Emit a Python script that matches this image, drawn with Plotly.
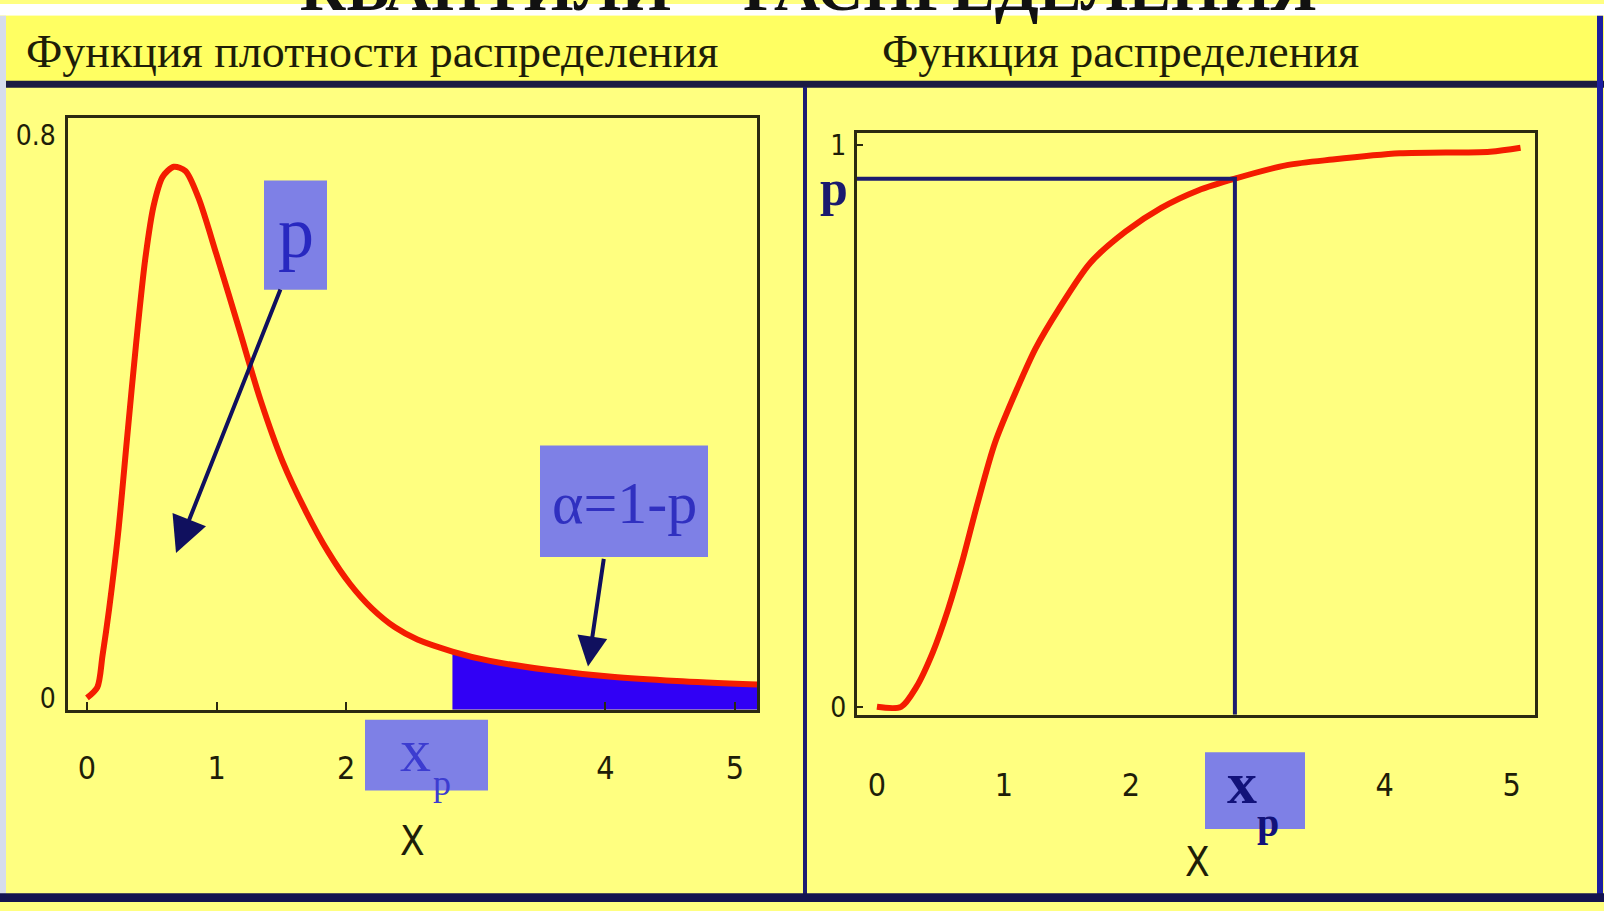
import plotly.graph_objects as go

W, H = 1604, 911

# Density of the distribution (left panel)
density_x = [0.00, 0.08, 0.12, 0.17, 0.24, 0.31, 0.38, 0.45, 0.515, 0.585, 0.67, 0.76,
             0.86, 1.00, 1.17, 1.34, 1.51, 1.69, 1.86, 2.03, 2.20, 2.38, 2.55, 2.82,
             3.10, 3.55, 4.05, 4.55, 5.17]
density_y = [0.000, 0.015, 0.060, 0.125, 0.233, 0.370, 0.505, 0.624, 0.700, 0.741, 0.755, 0.749,
             0.711, 0.630, 0.527, 0.423, 0.336, 0.265, 0.208, 0.162, 0.127, 0.100, 0.083, 0.066,
             0.053, 0.040, 0.030, 0.024, 0.019]

# Cumulative distribution function (right panel)
cdf_x = [0.00, 0.19, 0.31, 0.44, 0.56, 0.67, 0.79, 0.93, 1.11, 1.25, 1.43, 1.68, 1.96,
         2.24, 2.53, 2.82, 3.23, 3.59, 4.12, 4.83, 5.07]
cdf_y = [0.000, 0.000, 0.035, 0.097, 0.173, 0.257, 0.360, 0.470, 0.569, 0.638, 0.707, 0.790,
         0.846, 0.888, 0.919, 0.940, 0.964, 0.974, 0.985, 0.988, 0.995]

# Quantile x_p and its probability p
quantile_x = 2.82
prob_p = 0.94

x_tick_vals = [0, 1, 2, 4, 5]
density_tick_vals = [0, 0.8]
density_tick_text = ["0", "0.8"]
cdf_tick_vals = [0, 1]
cdf_tick_text = ["0", "1"]

panel_titles = ["Функция плотности распределения", "Функция распределения"]
slide_title = ["КВАНТИЛИ", "РАСПРЕДЕЛЕНИЯ"]

density_range_x = [-0.15, 5.17]
density_range_y = [-0.0168, 0.8244]
cdf_range_x = [-0.157, 5.18]
cdf_range_y = [-0.014, 1.021]

# colours
BODY = "#ffff80"
HEADER = "#ffff62"
FRAME = "#2b2a10"
RED = "#f41c00"
FILL = "#3100f5"
BOX = "#7e80e6"
TICK = "#1e1e08"
NARROW = "Liberation Sans Narrow, DejaVu Sans Condensed, Arial Narrow, sans-serif"
SERIF = "Liberation Serif, Times New Roman, serif"


def px(x):
    return x / W


def py(y):
    return 1 - y / H


fig = go.Figure()

# shaded upper tail, alpha = 1 - p
tail_x = [x for x in density_x if x >= quantile_x]
tail_y = [y for x, y in zip(density_x, density_y) if x >= quantile_x]
fig.add_trace(go.Scatter(
    x=tail_x + [tail_x[-1], tail_x[0]],
    y=tail_y + [density_range_y[0], density_range_y[0]],
    fill="toself", fillcolor=FILL, mode="lines", line=dict(width=0, color=FILL),
    hoverinfo="skip", xaxis="x", yaxis="y"))

fig.add_trace(go.Scatter(x=density_x, y=density_y, mode="lines",
                         line=dict(color=RED, width=6, shape="spline", smoothing=0.8),
                         hoverinfo="skip", xaxis="x", yaxis="y"))

fig.add_trace(go.Scatter(x=cdf_x, y=cdf_y, mode="lines",
                         line=dict(color=RED, width=6, shape="spline", smoothing=0.8),
                         hoverinfo="skip", xaxis="x2", yaxis="y2"))

# guide lines p -> x_p on the distribution function
fig.add_trace(go.Scatter(x=[cdf_range_x[0], quantile_x, quantile_x],
                         y=[prob_p, prob_p, cdf_range_y[0]], mode="lines",
                         line=dict(color="#1c1c6e", width=4),
                         hoverinfo="skip", xaxis="x2", yaxis="y2"))

axis_common = dict(showline=True, mirror=True, linecolor=FRAME, linewidth=3,
                   showgrid=False, zeroline=False, fixedrange=True,
                   tickcolor=FRAME, tickwidth=2)

fig.update_layout(
    width=W, height=H, autosize=False,
    margin=dict(l=0, r=0, t=0, b=0, pad=0),
    paper_bgcolor=BODY, plot_bgcolor=BODY,
    showlegend=False,
    xaxis=dict(domain=[px(67.5), px(757)], range=density_range_x, anchor="y",
               tickvals=x_tick_vals, ticks="inside", ticklen=8,
               tickfont=dict(family=NARROW, size=32, color=TICK),
               ticklabelstandoff=28, **axis_common),
    yaxis=dict(domain=[py(716), py(115.6)], range=density_range_y, anchor="x",
               tickvals=density_tick_vals, ticktext=density_tick_text, ticks="",
               tickfont=dict(family=NARROW, size=28, color=TICK),
               ticklabelstandoff=3, **axis_common),
    xaxis2=dict(domain=[px(857), px(1534.5)], range=cdf_range_x, anchor="y2",
                tickvals=x_tick_vals, ticks="",
                tickfont=dict(family=NARROW, size=32, color=TICK),
                ticklabelstandoff=40, **axis_common),
    yaxis2=dict(domain=[py(721), py(131)], range=cdf_range_y, anchor="x2",
                tickvals=cdf_tick_vals, ticktext=cdf_tick_text, ticks="inside", ticklen=6,
                tickfont=dict(family=NARROW, size=28, color=TICK),
                ticklabelstandoff=2, **axis_common),
)

shapes = [
    # white strip at the very top and the header band
    dict(type="rect", xref="paper", yref="paper", x0=0, x1=1, y0=py(12), y1=1,
         fillcolor="white", line=dict(width=0), layer="below"),
    dict(type="rect", xref="paper", yref="paper", x0=0, x1=1, y0=py(80), y1=py(12),
         fillcolor=HEADER, line=dict(width=0), layer="below"),
    # light strip on the left edge
    dict(type="rect", xref="paper", yref="paper", x0=0, x1=px(6), y0=0, y1=py(12),
         fillcolor="#d6dcec", line=dict(width=0), layer="above"),
    # panel frame lines
    dict(type="line", xref="paper", yref="paper", x0=px(6), x1=1, y0=py(81.5), y1=py(81.5),
         line=dict(color="#1a1a42", width=7), layer="above"),
    dict(type="line", xref="paper", yref="paper", x0=px(805), x1=px(805), y0=0, y1=py(84),
         line=dict(color="#1c1c72", width=4), layer="above"),
    dict(type="line", xref="paper", yref="paper", x0=px(1600), x1=px(1600), y0=0, y1=py(12),
         line=dict(color="#1b1ea0", width=6), layer="above"),
    dict(type="rect", xref="paper", yref="paper", x0=0, x1=1, y0=0, y1=py(902),
         fillcolor="#141450", line=dict(width=0), layer="above"),
    # label boxes
    dict(type="rect", xref="paper", yref="paper", x0=px(264), x1=px(327), y0=py(290), y1=py(179),
         fillcolor=BOX, line=dict(width=0), layer="above"),
    dict(type="rect", xref="paper", yref="paper", x0=px(540), x1=px(708), y0=py(561), y1=py(448),
         fillcolor=BOX, line=dict(width=0), layer="above"),
    dict(type="rect", xref="paper", yref="paper", x0=px(365), x1=px(488), y0=py(798), y1=py(726),
         fillcolor=BOX, line=dict(width=0), layer="above"),
    dict(type="rect", xref="paper", yref="paper", x0=px(1205), x1=px(1305), y0=py(837), y1=py(759),
         fillcolor=BOX, line=dict(width=0), layer="above"),
]
fig.update_layout(shapes=shapes)

ann = []


def text(x, y, s, size, color, family=SERIF, xanchor="center", yanchor="middle",
         yref="paper", yshift=0):
    ann.append(dict(x=x, y=y, xref="paper", yref=yref, text=s, showarrow=False,
                    xanchor=xanchor, yanchor=yanchor, yshift=yshift,
                    font=dict(family=family, size=size, color=color)))


# slide title, sitting mostly above the top edge of the page
text(px(485), py(-16), "<b>" + slide_title[0] + "</b>", 64, "#111")
text(px(1030), py(-16), "<b>" + slide_title[1] + "</b>", 64, "#111")

# panel headers
text(px(24), py(48), panel_titles[0], 46, "#1e1e08", xanchor="left")
text(px(880), py(48), panel_titles[1], 46, "#1e1e08", xanchor="left")

# box labels
text(px(296), py(232), "p", 72, "#2828c0")
text(px(624), py(506), "α=1-p", 60, "#3030c0")
text(px(415), py(757), "x", 62, "#3c3cd0")
text(px(442), py(790), "p", 36, "#3c3cd0")
text(px(1242), py(790), "<b>x</b>", 60, "#12127a")
text(px(1268), py(830), "<b>p</b>", 40, "#12127a")

# p on the probability axis
text(px(834), prob_p, "<b>p</b>", 50, "#1a1a6e", yref="y2", yshift=-9)

# axis names
text(px(412), py(849), "X", 40, TICK, family=NARROW)
text(px(1197), py(870), "X", 40, TICK, family=NARROW)

# arrows from the labels to the areas
ann.append(dict(x=px(176), y=py(557), xref="paper", yref="paper", text="",
                showarrow=True, arrowhead=2, arrowsize=1.8, arrowwidth=4,
                arrowcolor="#10105e", ax=105, ay=-265, axref="pixel", ayref="pixel"))
ann.append(dict(x=px(588), y=py(672), xref="paper", yref="paper", text="",
                showarrow=True, arrowhead=2, arrowsize=1.5, arrowwidth=4,
                arrowcolor="#10105e", ax=16, ay=-109, axref="pixel", ayref="pixel"))

fig.update_layout(annotations=ann)

fig.write_html("out.html", config={"displayModeBar": False, "staticPlot": True})
